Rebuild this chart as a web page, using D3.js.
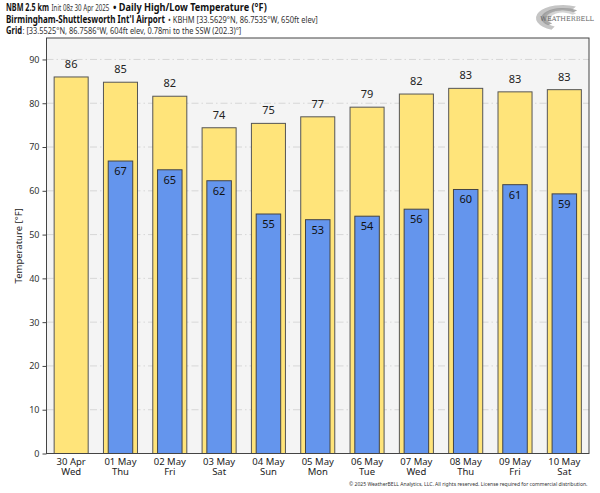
<!DOCTYPE html>
<html>
<head>
<meta charset="utf-8">
<script src="https://cdn.jsdelivr.net/npm/d3@7/dist/d3.min.js"></script>
<style>
  body { margin: 0; background: #fff; }
  svg { display: block; font-family: "Noto Sans", "Open Sans", sans-serif; }
</style>
</head>
<body>
<svg id="chart" width="600" height="493"></svg>
<script>
const days = ["30 Apr", "01 May", "02 May", "03 May", "04 May", "05 May", "06 May", "07 May", "08 May", "09 May", "10 May"];
const weekdays = ["Wed", "Thu", "Fri", "Sat", "Sun", "Mon", "Tue", "Wed", "Thu", "Fri", "Sat"];
const highs = [86.0, 84.8, 81.6, 74.4, 75.4, 76.9, 79.1, 82.1, 83.4, 82.6, 83.1];
const lows = [null, 66.8, 64.8, 62.3, 54.7, 53.4, 54.2, 55.8, 60.3, 61.4, 59.3];
const yTicks = [0, 10, 20, 30, 40, 50, 60, 70, 80, 90];

const svg = d3.select("#chart");
const m = { l: 46.5, r: 11, t: 38, b: 39.5 };
const W = 600, H = 493;
const iw = W - m.l - m.r, ih = H - m.t - m.b;

const x = d3.scaleBand().domain(days).range([m.l, m.l + iw]).paddingInner(0.31).paddingOuter(0.155);
const y = d3.scaleLinear().domain([0, 94.9]).range([m.t + ih, m.t]);

// header: the original uses a condensed face, so each piece is squeezed horizontally
const head = svg.append("g");
function piece(s, bold, px, py, w) {
  const t = head.append("text")
    .attr("font-size", bold ? 10 : 9.5)
    .attr("font-weight", bold ? "bold" : "normal")
    .attr("fill", bold ? "#111" : "#333")
    .text(s);
  const sx = w / t.node().getComputedTextLength();
  t.attr("transform", `translate(${px},${py}) scale(${sx},1)`);
}
piece("NBM 2.5 km", true, 6, 11, 43);
piece("Init 08z 30 Apr 2025", false, 51.5, 11, 58);
piece("• Daily High/Low Temperature (°F)", true, 113, 11, 154);
piece("Birmingham-Shuttlesworth Int'l Airport", true, 6, 23, 159);
piece("• KBHM [33.5629°N, 86.7535°W, 650ft elev]", false, 168, 23, 150);
piece("Grid", true, 6, 34, 16);
piece(": [33.5525°N, 86.7586°W, 604ft elev, 0.78mi to the SSW (202.3)°]", false, 22.5, 34, 219);

// logo
const logo = svg.append("g").attr("transform", "translate(563,18)");
[[27, 13, "#bbb"], [22, 10, "#999"], [17, 7.5, "#ccc"]].forEach(([rx, ry, c], i) => {
  logo.append("path")
    .attr("d", d3.arc()({ innerRadius: 0.72, outerRadius: 1, startAngle: -2.7 + i * 0.3, endAngle: 0.5 + i * 0.2 }))
    .attr("transform", `scale(${rx},${ry})`)
    .attr("fill", c).attr("opacity", 0.85);
});
logo.append("text").attr("x", 4).attr("y", 3).attr("text-anchor", "middle")
  .attr("font-size", 6.5).attr("font-family", "DejaVu Serif, serif").attr("fill", "#666").text("WEATHERBELL");

// plot background
svg.append("rect").attr("x", m.l).attr("y", m.t).attr("width", iw).attr("height", ih).attr("fill", "#f4f4f4");

// grid
svg.append("g").selectAll("line").data(yTicks.filter(d => d > 0)).join("line")
  .attr("x1", m.l).attr("x2", m.l + iw)
  .attr("y1", d => y(d)).attr("y2", d => y(d))
  .attr("stroke", "#cfcfcf").attr("stroke-width", 0.8).attr("stroke-dasharray", "7,3,1.5,3");

// high bars
svg.append("g").selectAll("rect").data(days).join("rect")
  .attr("x", d => x(d)).attr("width", x.bandwidth())
  .attr("y", (d, i) => y(highs[i])).attr("height", (d, i) => y(0) - y(highs[i]))
  .attr("fill", "#ffe47a").attr("stroke", "#555").attr("stroke-width", 1);

const lowW = x.bandwidth() * 0.72;
const lowData = days.map((d, i) => ({ d, v: lows[i] })).filter(e => e.v != null);
svg.append("g").selectAll("rect").data(lowData).join("rect")
  .attr("x", e => x(e.d) + (x.bandwidth() - lowW) / 2).attr("width", lowW)
  .attr("y", e => y(e.v)).attr("height", e => y(0) - y(e.v))
  .attr("fill", "#6495ed").attr("stroke", "#444").attr("stroke-width", 1);

// value labels
svg.append("g").selectAll("text").data(days).join("text")
  .attr("x", d => x(d) + x.bandwidth() / 2).attr("y", (d, i) => y(highs[i]) - 9)
  .attr("text-anchor", "middle").attr("font-size", 11).attr("fill", "#222")
  .text((d, i) => Math.round(highs[i]));
svg.append("g").selectAll("text").data(lowData).join("text")
  .attr("x", e => x(e.d) + x.bandwidth() / 2).attr("y", e => y(e.v) + 14)
  .attr("text-anchor", "middle").attr("font-size", 11).attr("fill", "#111")
  .text(e => Math.round(e.v));

// frame
svg.append("rect").attr("x", m.l).attr("y", m.t).attr("width", iw).attr("height", ih)
  .attr("fill", "none").attr("stroke", "#444").attr("stroke-width", 1);

// y axis
const ya = svg.append("g").attr("transform", `translate(${m.l},0)`)
  .call(d3.axisLeft(y).tickValues(yTicks).tickSize(4).tickPadding(3));
ya.select(".domain").remove();
ya.selectAll("line").attr("stroke", "#444");
ya.selectAll("text").attr("font-size", 9).attr("fill", "#333").attr("font-family", "Noto Sans, sans-serif");

// x axis: date on the first line, weekday below
const xa = svg.append("g").attr("transform", `translate(0,${m.t + ih})`)
  .call(d3.axisBottom(x).tickSize(0));
xa.select(".domain").remove();
xa.selectAll("text").attr("y", 11).attr("dy", null)
  .attr("font-size", 9.5).attr("fill", "#222").attr("font-family", "Noto Sans, sans-serif");
xa.selectAll(".tick").append("text")
  .attr("y", 21.3).attr("text-anchor", "middle")
  .attr("font-size", 9.5).attr("fill", "#222").attr("font-family", "Noto Sans, sans-serif")
  .text((d, i) => weekdays[i]);

svg.append("text").attr("transform", `translate(19,${m.t + ih / 2}) rotate(-90)`)
  .attr("text-anchor", "middle").attr("dy", "0.35em").attr("font-size", 9.5).attr("fill", "#222")
  .text("Temperature [°F]");

const copy = svg.append("text").attr("font-size", 4.8).attr("fill", "#333")
  .text("© 2025 WeatherBELL Analytics, LLC. All rights reserved. License required for commercial distribution.");
const cw = copy.node().getComputedTextLength();
copy.attr("transform", `translate(349,486) scale(${239 / cw},1)`);
</script>
</body>
</html>
